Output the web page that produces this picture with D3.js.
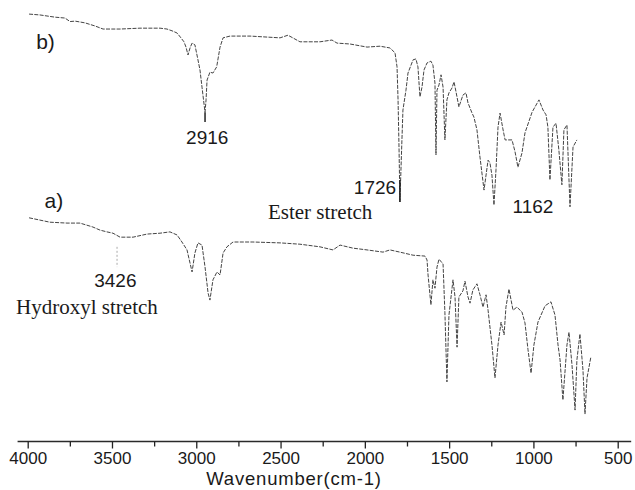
<!DOCTYPE html>
<html>
<head>
<meta charset="utf-8">
<script src="https://cdn.jsdelivr.net/npm/d3@7"></script>
<style>
  html, body { margin: 0; padding: 0; background: #fff; }
  svg { display: block; }
  text { fill: #1a1a1a; }
</style>
</head>
<body>
<script>
// spectrum b) - wavenumber (cm-1) and transmittance (arb. units)
const specB_wn = [3992, 3927, 3838, 3779, 3749, 3719, 3660, 3601, 3553, 3452, 3334, 3215, 3174, 3144, 3114, 3091,
  3073, 3061, 3049, 3037, 3025, 3008, 2990, 2978, 2966, 2957, 2948, 2942, 2936, 2919, 2901, 2879, 2859, 2841,
  2800, 2681, 2503, 2456, 2385, 2266, 2195, 2165, 2088, 1987, 1910, 1851, 1821, 1809, 1803, 1797, 1792, 1780,
  1774, 1756, 1744, 1714, 1697, 1685, 1673, 1661, 1649, 1631, 1608, 1596, 1584, 1578, 1572, 1560, 1548, 1536,
  1525, 1513, 1501, 1483, 1471, 1459, 1442, 1418, 1400, 1388, 1364, 1353, 1335, 1317, 1293, 1269, 1258, 1246,
  1234, 1222, 1210, 1198, 1181, 1168, 1127, 1109, 1092, 1068, 1050, 1008, 967, 943, 925, 914, 902, 884, 866,
  849, 831, 819, 801, 783, 765, 742];
const specB_t = [96.8, 96.6, 96.1, 95.9, 95.1, 95.2, 94.8, 94.1, 93.4, 93.4, 93.6, 93.6, 93.4, 93.0, 92.5, 91.4,
  90.5, 89.3, 87.5, 89.1, 90.2, 89.8, 86.4, 84.1, 80.2, 77.3, 74.5, 77.3, 81.8, 83.6, 83.4, 84.8, 89.3, 91.4,
  91.8, 91.8, 91.4, 92.0, 90.5, 90.5, 90.9, 90.2, 90.0, 89.3, 89.5, 89.1, 88.0, 84.8, 77.3, 65.9, 54.1, 68.2,
  75.0, 79.5, 83.4, 86.4, 86.6, 84.8, 78.0, 80.2, 84.1, 85.7, 86.1, 85.2, 81.1, 64.8, 79.5, 80.7, 83.0, 80.2,
  68.2, 77.3, 78.9, 80.0, 81.4, 79.1, 75.7, 78.4, 78.9, 76.6, 74.3, 73.4, 70.5, 64.3, 56.8, 63.6, 63.0, 60.2,
  53.4, 61.4, 71.1, 74.3, 70.7, 68.2, 68.2, 65.5, 62.0, 65.2, 69.8, 74.5, 77.3, 75.0, 73.9, 71.1, 59.1, 71.1, 72.0,
  65.9, 58.0, 70.5, 71.6, 53.0, 66.6, 68.2];

// spectrum a)
const specA_wn = [3992, 3868, 3767, 3690, 3613, 3571, 3530, 3494, 3452, 3375, 3292, 3215, 3156, 3114, 3085, 3055,
  3025, 3008, 2990, 2966, 2948, 2930, 2919, 2901, 2877, 2859, 2841, 2818, 2782, 2664, 2503, 2385, 2266, 2189,
  2147, 2070, 1987, 1892, 1851, 1792, 1714, 1643, 1631, 1625, 1608, 1596, 1584, 1572, 1560, 1536, 1525, 1513,
  1501, 1477, 1465, 1453, 1442, 1418, 1406, 1388, 1376, 1359, 1335, 1317, 1299, 1281, 1269, 1246, 1228, 1210,
  1192, 1174, 1163, 1145, 1121, 1098, 1068, 1050, 1032, 1014, 997, 973, 931, 896, 872, 854, 842, 825, 801, 789,
  771, 753, 742, 724, 706, 694, 682, 659];
const specA_t = [50.5, 49.5, 49.3, 49.3, 48.4, 47.7, 47.3, 47.0, 46.1, 46.1, 46.8, 47.0, 47.3, 46.6, 45.0, 43.2,
  38.2, 42.5, 44.8, 44.3, 39.3, 33.4, 31.8, 36.4, 38.2, 37.5, 42.5, 43.9, 45.0, 45.0, 44.8, 44.5, 43.9, 43.2,
  44.3, 43.6, 43.2, 42.7, 43.2, 42.7, 42.0, 41.8, 40.9, 37.5, 30.7, 36.4, 34.5, 39.3, 41.1, 40.0, 28.9, 13.2,
  28.4, 36.4, 32.5, 21.1, 32.5, 33.9, 36.1, 32.5, 31.1, 34.1, 35.5, 33.0, 30.2, 33.0, 29.5, 21.6, 14.1, 21.6,
  26.8, 23.9, 30.2, 34.3, 29.5, 30.2, 29.1, 26.6, 20.5, 15.2, 21.6, 26.8, 30.5, 31.4, 28.4, 21.6, 18.2, 9.1, 21.6, 24.5,
  17.0, 6.8, 18.2, 24.1, 15.9, 5.9, 14.1, 18.9];

// axis ticks
const majorTicks = [4000, 3500, 3000, 2500, 2000, 1500, 1000, 500];
const minorTicks = [3750, 3250, 2750, 2250, 1750, 1250, 750];

// peak labels: text, anchor wavenumber, anchor transmittance
const peakLabels = [
  { text: "2916", wn: 2935, t: 67.3 },
  { text: "1726", wn: 1940, t: 55.9 },
  { text: "1162", wn: 1003, t: 51.6 },
  { text: "3426", wn: 3480, t: 34.8 }
];
const bandNames = [
  { text: "Ester stretch", wn: 2575, t: 50.2 },
  { text: "Hydroxyl stretch", wn: 4069, t: 28.6 }
];
const panelNames = [
  { text: "b)", wn: 3950, t: 88.9 },
  { text: "a)", wn: 3900, t: 52.7 }
];

const width = 635, height = 490;

const svg = d3.select("body").append("svg")
  .attr("width", width)
  .attr("height", height);

// scales - wavenumber runs right to left
const x = d3.scaleLinear().domain([4000, 500]).range([27.7, 617.7]);
const y = d3.scaleLinear().domain([0, 100]).range([440, 0]);

const axisY = 441.5;

// spectra
const line = d3.line()
  .x(d => x(d[0]))
  .y(d => y(d[1]));

function drawSpectrum(wn, t) {
  svg.append("path")
    .datum(d3.zip(wn, t))
    .attr("d", line)
    .attr("fill", "none")
    .attr("stroke", "#444")
    .attr("stroke-width", 1)
    .attr("stroke-dasharray", "4 1.3")
    .attr("stroke-linejoin", "round");
}
drawSpectrum(specB_wn, specB_t);
drawSpectrum(specA_wn, specA_t);

// small marker lines under the labelled peaks
svg.append("line")
  .attr("x1", x(2948)).attr("x2", x(2948))
  .attr("y1", y(74.5)).attr("y2", y(72.3))
  .attr("stroke", "#222").attr("stroke-width", 1.5);
svg.append("line")
  .attr("x1", x(1792)).attr("x2", x(1792))
  .attr("y1", y(59.1)).attr("y2", y(54.1))
  .attr("stroke", "#222").attr("stroke-width", 1.5);
svg.append("line")
  .attr("x1", x(3470)).attr("x2", x(3470))
  .attr("y1", y(43.9)).attr("y2", y(39.3))
  .attr("stroke", "#aaa").attr("stroke-width", 1)
  .attr("stroke-dasharray", "2 2");

// annotations
svg.selectAll("text.peak")
  .data(peakLabels)
  .enter().append("text")
  .attr("class", "peak")
  .attr("x", d => x(d.wn))
  .attr("y", d => y(d.t))
  .attr("text-anchor", "middle")
  .style("font-family", "'Liberation Sans', Arial, sans-serif")
  .style("font-size", "19px")
  .text(d => d.text);

svg.selectAll("text.band")
  .data(bandNames)
  .enter().append("text")
  .attr("class", "band")
  .attr("x", d => x(d.wn))
  .attr("y", d => y(d.t))
  .style("font-family", "'Liberation Serif', 'Times New Roman', serif")
  .style("font-size", "21px")
  .text(d => d.text);

svg.selectAll("text.panel")
  .data(panelNames)
  .enter().append("text")
  .attr("class", "panel")
  .attr("x", d => x(d.wn))
  .attr("y", d => y(d.t))
  .style("font-family", "'Liberation Sans', Arial, sans-serif")
  .style("font-size", "21px")
  .text(d => d.text);

// x axis
const gAxis = svg.append("g").attr("transform", `translate(0,${axisY})`);

gAxis.append("line")
  .attr("x1", x(4060)).attr("x2", x(420))
  .attr("stroke", "#2a2a2a")
  .attr("stroke-width", 1.6);

const majorAxis = d3.axisBottom(x)
  .tickValues(majorTicks)
  .tickSize(7)
  .tickPadding(3)
  .tickFormat(d3.format("d"));
const gMajor = gAxis.append("g").call(majorAxis);
gMajor.select(".domain").remove();
gMajor.selectAll(".tick line").attr("stroke", "#222").attr("stroke-width", 1.3);
gMajor.selectAll(".tick text")
  .style("font-family", "'Liberation Sans', Arial, sans-serif")
  .style("font-size", "17px")
  .attr("fill", "#1a1a1a");

const minorAxis = d3.axisBottom(x)
  .tickValues(minorTicks)
  .tickSize(5)
  .tickFormat("");
const gMinor = gAxis.append("g").call(minorAxis);
gMinor.select(".domain").remove();
gMinor.selectAll(".tick line").attr("stroke", "#222").attr("stroke-width", 1.3);

svg.append("text")
  .attr("x", x(2420))
  .attr("y", 484.5)
  .attr("text-anchor", "middle")
  .style("font-family", "'Liberation Sans', Arial, sans-serif")
  .style("font-size", "18.5px")
  .style("letter-spacing", "0.8px")
  .text("Wavenumber(cm-1)");
</script>
</body>
</html>
